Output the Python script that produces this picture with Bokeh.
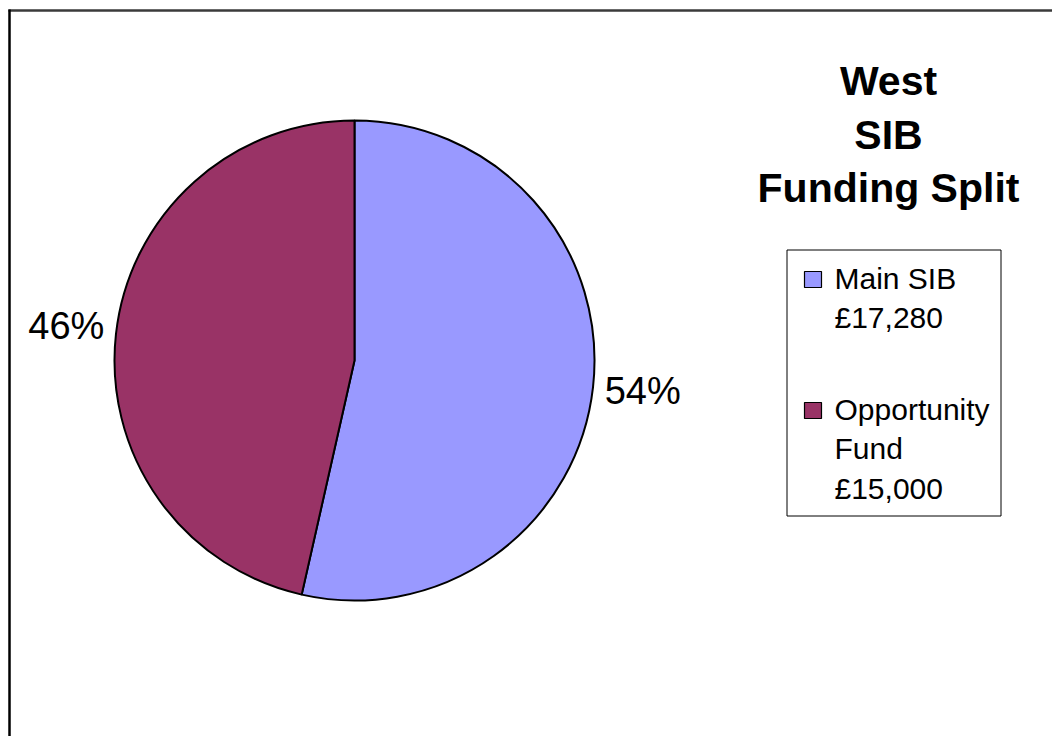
import math
from bokeh.plotting import figure
from bokeh.models import Range1d, ColumnDataSource
from bokeh.core.properties import value
from bokeh.embed import file_html
from bokeh.resources import INLINE

# ---- data ----
categories = ["Main SIB", "Opportunity Fund"]
legend_labels = ["Main SIB\n£17,280", "Opportunity\nFund\n£15,000"]
amounts = [17280, 15000]
colors = ["#9999FF", "#993366"]
title_lines = ["West", "SIB", "Funding Split"]

FONT = "Liberation Sans"

W, H = 1052, 736
p = figure(width=W, height=H, output_backend="svg", toolbar_location=None,
           x_range=Range1d(0, W), y_range=Range1d(0, H),
           min_border=0)
p.axis.visible = False
p.grid.visible = False
p.outline_line_color = None
p.background_fill_color = "white"
p.border_fill_color = "white"

def sy(y):  # screen y -> data y
    return H - y

# chart border (top and left edges only visible)
p.segment(x0=[8], y0=[sy(10)], x1=[W], y1=[sy(10)], line_color="#3a3a3a", line_width=2.5)
p.segment(x0=[9], y0=[sy(9)], x1=[9], y1=[0], line_color="#000000", line_width=2.5)

# ---- pie ----
cx, cy, r = 354, sy(360), 240
total = sum(amounts)
fracs = [a / total for a in amounts]
starts, ends, mids = [], [], []
ang = math.pi / 2
for f in fracs:
    a2 = ang - f * 2 * math.pi
    starts.append(a2)
    ends.append(ang)
    mids.append((ang + a2) / 2)
    ang = a2

src = ColumnDataSource(dict(x=[cx] * len(amounts), y=[cy] * len(amounts),
                            start=starts, end=ends, color=colors))
p.wedge(x="x", y="y", radius=r, start_angle="start", end_angle="end",
        fill_color="color", line_color="black", line_width=2, source=src)

# percentage labels
lr = 290
pct = [f"{round(f * 100)}%" for f in fracs]
p.text(x=[cx + lr * math.cos(m) for m in mids],
       y=[cy + lr * math.sin(m) + 2 for m in mids],
       text=pct, text_font=value(FONT), text_font_size="38px",
       text_align="center", text_baseline="middle", text_color="black")

# ---- title ----
p.text(x=[888] * 3, y=[sy(80), sy(134), sy(187.5)], text=title_lines,
       text_font=value(FONT), text_font_size="41px", text_font_style="bold",
       text_align="center", text_baseline="alphabetic", text_color="black")

# ---- legend (drawn manually) ----
p.quad(left=[786.5], right=[1000.5], top=[sy(249.5)], bottom=[sy(515.5)],
       fill_color="white", line_color="black", line_width=1)
sw_top = [271, 402]
p.quad(left=[804] * 2, right=[821] * 2,
       top=[sy(t) for t in sw_top], bottom=[sy(t + 16) for t in sw_top],
       fill_color=colors, line_color="black", line_width=1.2)
p.text(x=[834] * 2, y=[sy(t - 10) for t in sw_top], text=legend_labels,
       text_font=value(FONT), text_font_size="30px",
       text_align="left", text_baseline="top", text_line_height=1.2,
       text_color="black")

open("out.html", "w").write(file_html(p, INLINE))
